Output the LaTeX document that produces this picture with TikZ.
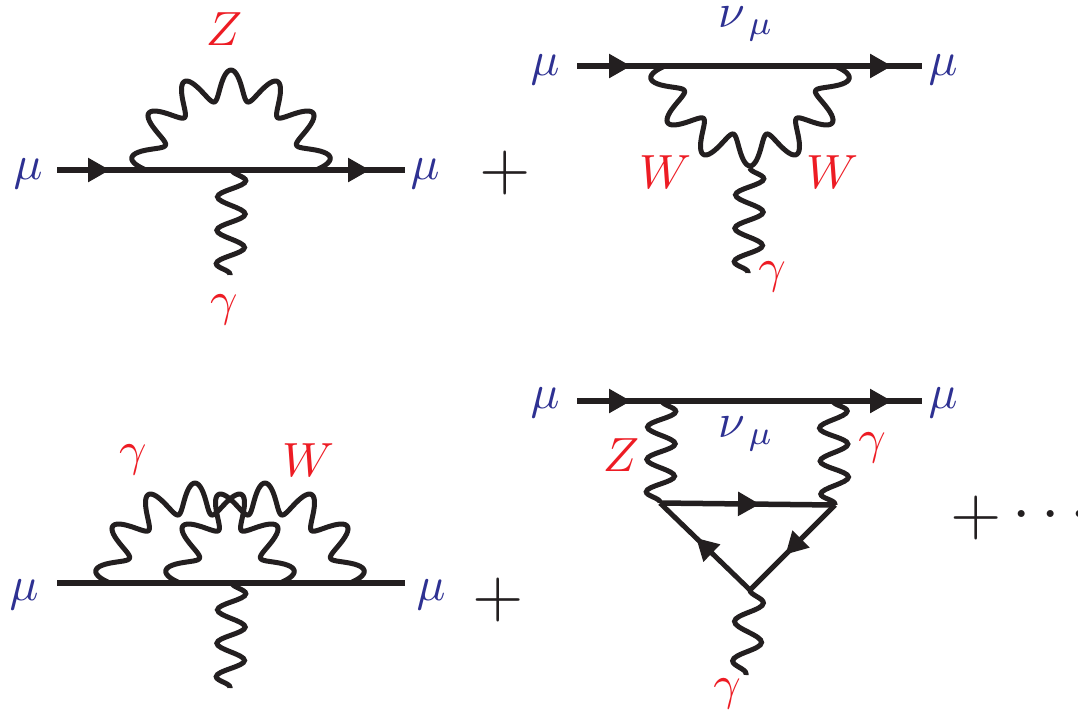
\documentclass[tikz,border=0pt]{standalone}
\usepackage{amsmath, amssymb}
\usepackage{xcolor}
\usetikzlibrary{calc,arrows.meta,decorations.pathmorphing,decorations.markings}
\definecolor{lepton}{RGB}{46,49,146}
\definecolor{boson}{RGB}{237,28,36}
\definecolor{ink}{RGB}{35,31,32}
% wavy half circle between two vertices, #3 = 1 above, -1 below
\newcommand{\photonarch}[3]{
  \draw[draw=ink, line width=5pt, line join=round]
    let \p1=($(#1)!.5!(#2)$), \p2=($(#2)-(#1)$), \n1={\x2/2} in
    plot[variable=\t, domain=0:180, samples=181, smooth]
    ({\x1-(\n1+15*sin(13*\t))*cos(\t)}, {\y1+#3*(\n1+15*sin(13*\t))*sin(\t)});
}
\begin{document}
\begin{tikzpicture}[x=1pt, y=1pt,
  fermion/.style={draw=ink, line width=5.5pt},
  loopline/.style={draw=ink, line width=5pt},
  photon/.style={draw=ink, line width=5pt, decorate,
    decoration={snake, segment length=#1, amplitude=14pt}},
  photon/.default=33.4pt,
  arrowat/.style={postaction={decorate, decoration={markings,
    mark=at position #1 with {\arrow{Triangle[length=22pt, width=23pt]}}}}},
  lep/.style={text=lepton, inner sep=0pt, scale=4.8},
  bos/.style={text=boson, inner sep=0pt, scale=4.8},
  txt/.style={text=ink, inner sep=0pt, scale=6.6}]
\useasboundingbox (0,0) rectangle (1078,-713);
% top left
\coordinate (a1) at (57,-170);
\coordinate (a2) at (405,-170);
\coordinate (a3) at (146,-170);
\coordinate (a4) at (316,-170);
\coordinate (a5) at (232,-170);
\coordinate (a6) at (230,-275);
\node[lep] (amuL) at (28,-174) {$\mu$};
\node[lep] (amuR) at (425,-174) {$\mu$};
\node[bos] (aZ) at (224,-29) {$Z$};
\node[bos] (agam) at (224,-310) {$\gamma$};
\node[txt] (plusA) at (505,-173) {$+$};
\draw[fermion, arrowat=53pt, arrowat=313pt] (a1) -- (a2);
\photonarch{a3}{a4}{1}
\draw[photon] (a5) -- (a6);
% top right
\coordinate (b1) at (577,-66);
\coordinate (b2) at (922,-66);
\coordinate (b3) at (665,-66);
\coordinate (b4) at (835,-66);
\coordinate (b5) at (750,-168);
\coordinate (b6) at (748,-273);
\node[lep] (bmuL) at (545,-70) {$\mu$};
\node[lep] (bmuR) at (943,-70) {$\mu$};
\node[lep] (bnu) at (746,-24) {$\nu_{\,\mu}$};
\node[bos] (bW1) at (665,-172) {$W$};
\node[bos] (bW2) at (832,-172) {$W$};
\node[bos] (bgam) at (772,-277) {$\gamma$};
\draw[fermion, arrowat=54pt, arrowat=315pt] (b1) -- (b2);
\photonarch{b3}{b4}{-1}
\draw[photon] (b5) -- (b6);
% bottom left
\coordinate (c1) at (57,-583);
\coordinate (c2) at (405,-583);
\coordinate (c3) at (110,-583);
\coordinate (c4) at (280,-583);
\coordinate (c5) at (180,-583);
\coordinate (c6) at (350,-583);
\coordinate (c7) at (232,-583);
\coordinate (c8) at (230,-688);
\node[lep] (cmuL) at (24,-595) {$\mu$};
\node[lep] (cmuR) at (431,-595) {$\mu$};
\node[bos] (cgam) at (133,-460) {$\gamma$};
\node[bos] (cW) at (308,-460) {$W$};
\node[txt] (plusC) at (498,-600) {$+$};
\draw[fermion] (c1) -- (c2);
\photonarch{c3}{c4}{1}
\photonarch{c5}{c6}{1}
\draw[photon] (c7) -- (c8);
% bottom right
\coordinate (d1) at (577,-401);
\coordinate (d2) at (922,-401);
\coordinate (d3) at (662,-401);
\coordinate (d4) at (833,-401);
\coordinate (d5) at (660,-503);
\coordinate (d6) at (835,-505);
\coordinate (d7) at (750,-590);
\coordinate (d8) at (746,-675);
\node[lep] (dmuL) at (545,-403) {$\mu$};
\node[lep] (dmuR) at (943,-403) {$\mu$};
\node[lep] (dnu) at (746,-434) {$\nu_{\,\mu}$};
\node[bos] (dZ) at (621,-455) {$Z$};
\node[bos] (dgam) at (872,-448) {$\gamma$};
\node[bos] (dgam2) at (727,-694) {$\gamma$};
\node[txt] (plusD) at (976,-518) {$+$};
\node[txt, anchor=west] (dots) at (1011,-516) {$\cdots$};
\draw[fermion, arrowat=54pt, arrowat=315pt] (d1) -- (d2);
\draw[photon=32.4pt] (d3) -- (d5);
\draw[photon=33pt] (d4) -- (d6);
\draw[photon=39.5pt] (d7) -- (d8);
\draw[fermion, arrowat=100pt] (d5) -- (d6);
\draw[loopline, arrowat=70pt] (d6) -- (d7);
\draw[loopline, arrowat=75pt] (d7) -- (d5);
\end{tikzpicture}
\end{document}
